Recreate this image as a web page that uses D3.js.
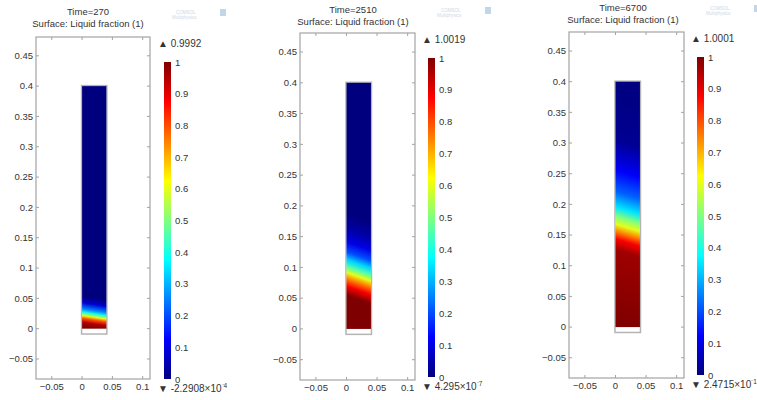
<!DOCTYPE html>
<html>
<head>
<meta charset="utf-8">
<script src="https://cdn.jsdelivr.net/npm/d3@7"></script>
<style>
  body { margin: 0; background: #fff; }
  svg { display: block; font-family: "Liberation Sans", Arial, sans-serif; }
</style>
</head>
<body>
<svg id="chart" width="757" height="400"></svg>
<script>
// snapshot times and colour range extremes
const times = [270, 2510, 6700];
const maxLabels = ["0.9992", "1.0019", "1.0001"];
const minLabels = [["-2.2908", "-4"], ["4.295", "-7"], ["2.4715", "-1"]];

// liquid fraction along the height of the cavity
const heights1 = [0.4, 0.05, 0.04, 0.03, 0.024, 0.019, 0.014, 0.008, 0];
const fraction1 = [0, 0, 0.08, 0.25, 0.4, 0.6, 0.8, 0.95, 1];
const heights2 = [0.4, 0.18, 0.155, 0.135, 0.118, 0.106, 0.095, 0.085, 0.075, 0.063, 0.048, 0];
const fraction2 = [0, 0, 0.04, 0.1, 0.2, 0.33, 0.45, 0.6, 0.75, 0.88, 1, 1];
const heights3 = [0.4, 0.3, 0.25, 0.215, 0.19, 0.175, 0.162, 0.15, 0.138, 0.12, 0];
const fraction3 = [0, 0.02, 0.12, 0.22, 0.35, 0.5, 0.6, 0.75, 0.88, 0.97, 1];
// melt front is a little higher on the left wall than on the right
const frontTilt = [0.006, 0.014, 0.012];

// axes ticks
const xTicks = [-0.05, 0, 0.05, 0.1];
const yTicks = [-0.05, 0, 0.05, 0.1, 0.15, 0.2, 0.25, 0.3, 0.35, 0.4, 0.45];
const barTicks = [0, 0.1, 0.2, 0.3, 0.4, 0.5, 0.6, 0.7, 0.8, 0.9, 1];

// geometry of the cavity
const cavity = { x0: 0, x1: 0.04, y0: 0, y1: 0.4, base: -0.008 };

const profiles = [
  { h: heights1, f: fraction1 },
  { h: heights2, f: fraction2 },
  { h: heights3, f: fraction3 }
];

// panel placement in the window
const layout = [
  { left: 36, top: 37, w: 114, h: 342, bar: { x: 164, top: 62, bottom: 379 }, title: { x: 88, y: 15 } },
  { left: 300, top: 33, w: 115, h: 347, bar: { x: 428, top: 58, bottom: 377 }, title: { x: 353, y: 13 } },
  { left: 569, top: 32, w: 115, h: 346, bar: { x: 697, top: 57, bottom: 375 }, title: { x: 623, y: 11 } }
];

// rainbow colour table
const jet = d3.scaleLinear()
  .domain([0, 0.125, 0.375, 0.625, 0.875, 1])
  .range(["#00007f", "#0000ff", "#00ffff", "#ffff00", "#ff0000", "#7f0000"])
  .clamp(true);

const svg = d3.select("#chart");
const defs = svg.append("defs");
const textColor = "#333";

times.forEach(function (t, i) {
  const L = layout[i];
  const x = d3.scaleLinear().domain([-0.076, 0.112]).range([L.left, L.left + L.w]);
  const y = d3.scaleLinear().domain([-0.083, 0.481]).range([L.top + L.h, L.top]);
  const g = svg.append("g");

  // titles
  g.append("text").attr("x", L.title.x).attr("y", L.title.y)
    .attr("text-anchor", "middle").attr("font-size", 9.5).attr("fill", textColor)
    .text("Time=" + t);
  g.append("text").attr("x", L.title.x).attr("y", L.title.y + 12)
    .attr("text-anchor", "middle").attr("font-size", 9.5).attr("fill", textColor)
    .text("Surface: Liquid fraction (1)");

  // faint watermark
  const wm = g.append("g").attr("opacity", 0.55);
  wm.append("text").attr("x", L.left + L.w + 26).attr("y", L.title.y - 1)
    .attr("font-size", 4.5).attr("fill", "#9fb7cf").text("COMSOL");
  wm.append("text").attr("x", L.left + L.w + 22).attr("y", L.title.y + 4)
    .attr("font-size", 4.5).attr("fill", "#9fb7cf").text("Multiphysics");
  wm.append("rect").attr("x", L.left + L.w + 70).attr("y", L.title.y - 6)
    .attr("width", 6).attr("height", 7).attr("fill", "#8fb6d8");

  // plot box
  g.append("rect").attr("x", L.left).attr("y", L.top).attr("width", L.w).attr("height", L.h)
    .attr("fill", "none").attr("stroke", "#a3a3a3").attr("stroke-width", 1.2);

  // inward ticks on all four sides
  const tk = 3;
  yTicks.forEach(function (v) {
    g.append("line").attr("x1", L.left).attr("x2", L.left + tk).attr("y1", y(v)).attr("y2", y(v))
      .attr("stroke", "#a3a3a3");
    g.append("line").attr("x1", L.left + L.w).attr("x2", L.left + L.w - tk).attr("y1", y(v)).attr("y2", y(v))
      .attr("stroke", "#a3a3a3");
  });
  xTicks.forEach(function (v) {
    g.append("line").attr("y1", L.top).attr("y2", L.top + tk).attr("x1", x(v)).attr("x2", x(v))
      .attr("stroke", "#a3a3a3");
    g.append("line").attr("y1", L.top + L.h).attr("y2", L.top + L.h - tk).attr("x1", x(v)).attr("x2", x(v))
      .attr("stroke", "#a3a3a3");
  });

  // tick labels
  g.selectAll(".ylab").data(yTicks).enter().append("text")
    .attr("x", L.left - 3).attr("y", d => y(d)).attr("dy", "0.35em")
    .attr("text-anchor", "end").attr("font-size", 9.5).attr("fill", textColor)
    .text(d => d3.format("~g")(d));
  g.selectAll(".xlab").data(xTicks).enter().append("text")
    .attr("x", d => x(d)).attr("y", L.top + L.h + 11)
    .attr("text-anchor", "middle").attr("font-size", 9.5).attr("fill", textColor)
    .text(d => d3.format("~g")(d));

  // liquid fraction field as a gradient, sheared to follow the tilted front
  const gy0 = y(cavity.y1), gy1 = y(cavity.y0);
  const shear = (y(0) - y(frontTilt[i])) / (x(cavity.x1) - x(cavity.x0));
  const cx = x((cavity.x0 + cavity.x1) / 2);
  const grad = defs.append("linearGradient").attr("id", "field" + i)
    .attr("gradientUnits", "userSpaceOnUse")
    .attr("x1", 0).attr("x2", 0).attr("y1", gy0).attr("y2", gy1)
    .attr("gradientTransform", `translate(${cx},0) skewY(${Math.atan(shear) * 180 / Math.PI}) translate(${-cx},0)`);
  const p = profiles[i];
  p.h.forEach(function (hv, j) {
    grad.append("stop")
      .attr("offset", Math.max(0, Math.min(1, (y(hv) - gy0) / (gy1 - gy0))))
      .attr("stop-color", jet(p.f[j]));
  });

  // cavity outline incl. bottom plate
  g.append("rect")
    .attr("x", x(cavity.x0) - 0.5).attr("y", y(cavity.y1) - 0.5)
    .attr("width", x(cavity.x1) - x(cavity.x0) + 1).attr("height", y(cavity.base) - y(cavity.y1) + 1)
    .attr("fill", "#fff").attr("stroke", "#b4b4b4").attr("stroke-width", 1.5);
  g.append("rect")
    .attr("x", x(cavity.x0)).attr("y", y(cavity.y1))
    .attr("width", x(cavity.x1) - x(cavity.x0)).attr("height", y(cavity.y0) - y(cavity.y1))
    .attr("fill", "url(#field" + i + ")");

  // colour bar
  const B = L.bar;
  const bg = defs.append("linearGradient").attr("id", "bar" + i)
    .attr("x1", 0).attr("x2", 0).attr("y1", 1).attr("y2", 0);
  jet.domain().forEach(function (v) {
    bg.append("stop").attr("offset", v).attr("stop-color", jet(v));
  });
  g.append("rect").attr("x", B.x).attr("y", B.top).attr("width", 7).attr("height", B.bottom - B.top)
    .attr("fill", "url(#bar" + i + ")");
  const by = d3.scaleLinear().domain([0, 1]).range([B.bottom, B.top]);
  const axis = g.append("g").attr("transform", `translate(${B.x + 7},0)`)
    .call(d3.axisRight(by).tickValues(barTicks).tickSize(0).tickPadding(4).tickFormat(d3.format("~g")));
  axis.select(".domain").remove();
  axis.selectAll("text").attr("font-size", 9.5).attr("fill", textColor)
    .attr("font-family", "Liberation Sans, Arial, sans-serif");

  // max / min markers
  g.append("text").attr("x", B.x - 6).attr("y", B.top - 15)
    .attr("font-size", 10).attr("fill", textColor)
    .text("\u25B2 " + maxLabels[i]);
  const mn = g.append("text").attr("x", B.x - 6).attr("y", B.bottom + 13)
    .attr("font-size", 10).attr("fill", textColor);
  mn.append("tspan").text("\u25BC " + minLabels[i][0] + "\u00D710");
  mn.append("tspan").attr("font-size", 6.5).attr("dy", -4).text(minLabels[i][1].replace("-", "\u207B"));
});
</script>
</body>
</html>
